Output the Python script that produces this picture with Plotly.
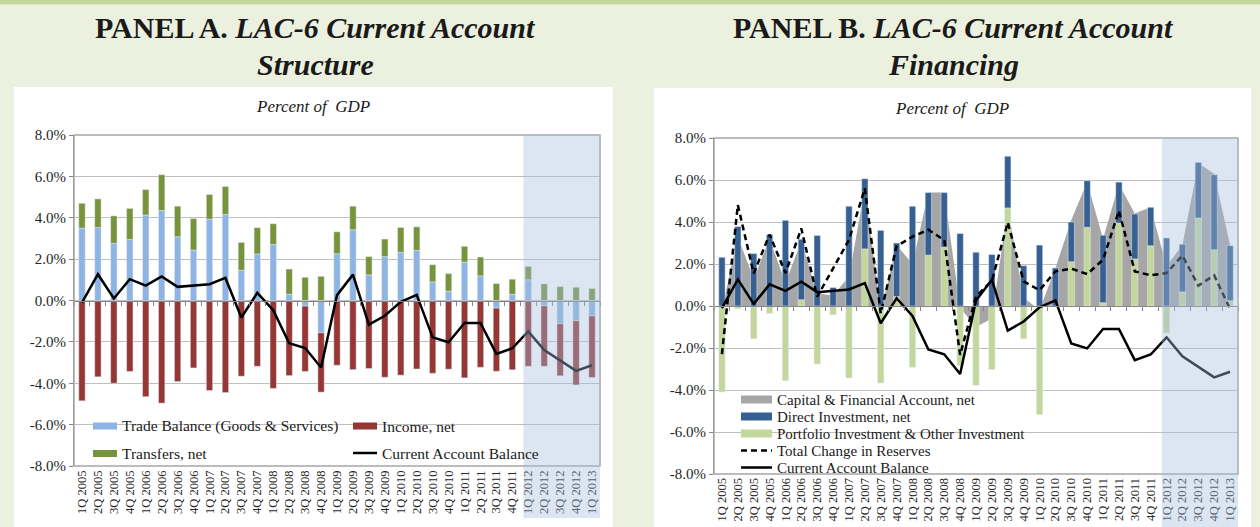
import plotly.graph_objects as go

W, H = 1260, 527

quarters = []
for yr in range(2005, 2014):
    for q in range(1, 5):
        quarters.append(f"{q}Q {yr}")
quarters = quarters[:33]

# Panel A (percent of GDP)
trade = [3.5, 3.53, 2.76, 2.95, 4.13, 4.35, 3.08, 2.44, 3.93, 4.16, 1.46, 2.25, 2.71, 0.3,
         -0.27, -1.56, 2.26, 3.42, 1.24, 2.12, 2.33, 2.42, 0.9, 0.45, 1.86, 1.19, -0.37, 0.3,
         1.0, -0.26, -1.12, -0.98, -0.75]
income = [-4.85, -3.69, -4.0, -3.43, -4.65, -4.96, -3.92, -3.26, -4.35, -4.45, -3.66, -3.18,
          -4.25, -3.63, -3.16, -2.87, -3.13, -3.34, -3.29, -3.71, -3.61, -3.31, -3.52, -3.32,
          -3.74, -3.23, -3.05, -3.35, -3.18, -2.92, -2.52, -3.1, -2.97]
transfers = [1.2, 1.38, 1.33, 1.5, 1.23, 1.73, 1.48, 1.52, 1.19, 1.35, 1.35, 1.27, 1.0, 1.22,
             1.12, 1.17, 1.06, 1.14, 0.88, 0.85, 1.2, 1.14, 0.83, 0.85, 0.76, 0.91, 0.82, 0.73,
             0.65, 0.8, 0.67, 0.64, 0.58]
ca_balance = [-0.1, 1.27, 0.1, 1.03, 0.72, 1.16, 0.66, 0.74, 0.79, 1.09, -0.82, 0.37, -0.47,
              -2.07, -2.3, -3.24, 0.26, 1.25, -1.17, -0.74, -0.06, 0.27, -1.78, -2.02, -1.09,
              -1.09, -2.58, -2.31, -1.49, -2.39, -2.9, -3.4, -3.13]

# Panel B (percent of GDP)
cap_fin = [-0.2, 3.3, 1.3, 3.2, 1.1, 3.1, 0.6, 0.5, 1.4, 5.6, -0.3, 2.9, 2.0, 5.4, 5.4, -0.1,
           -1.0, -0.6, 4.7, 0.4, -0.2, 1.8, 4.1, 5.9, 3.2, 5.8, 4.4, 4.7, 1.9, 2.9, 6.8, 6.3, 2.9]
direct_inv = [2.32, 3.78, 2.5, 3.4, 4.08, 2.88, 3.36, 0.88, 4.75, 3.34, 3.6, 2.55, 4.75, 2.98,
              2.6, 3.45, 2.56, 2.45, 2.46, 1.92, 2.9, 1.81, 1.89, 2.22, 3.21, 1.95, 2.14, 1.83,
              3.24, 2.27, 2.65, 3.57, 2.62]
portfolio = [-4.1, -0.13, -1.56, -0.35, -3.56, 0.3, -2.76, -0.42, -3.43, 2.72, -3.67, 0.45,
             -2.92, 2.42, 2.8, -2.83, -3.78, -3.03, 4.67, -1.56, -5.17, 0.0, 2.11, 3.75, 0.16,
             3.95, 2.24, 2.87, -1.29, 0.67, 4.19, 2.68, 0.25]
reserves = [-2.29, 4.81, 1.55, 3.4, 1.57, 3.69, 0.44, 1.8, 3.15, 5.6, -0.35, 2.85, 3.3, 3.63,
            3.14, -2.33, 0.46, 1.2, 3.98, 1.17, 0.75, 1.65, 1.78, 1.52, 2.2, 4.54, 1.65, 1.46,
            1.57, 2.4, 0.97, 1.46, -0.14]

y_ticks = [-8, -6, -4, -2, 0, 2, 4, 6, 8]
y_ticktext = ["-8.0%", "-6.0%", "-4.0%", "-2.0%", "0.0%", "2.0%", "4.0%", "6.0%", "8.0%"]

C_TRADE = "#8DB4E2"
C_INCOME = "#953735"
C_TRANSF = "#77933C"
C_CAPFIN = "#A6A6A6"
C_DI = "#376092"
C_PORT = "#C3D69B"
FONT = "Liberation Serif"


def px_x(v):
    return v / W


def px_y(v):
    return 1 - v / H


# plot-area domains (pixel based)
A_x = [px_x(74), px_x(600)]
A_y = [px_y(466), px_y(135)]
B_x = [px_x(714), px_x(1238)]
B_y = [px_y(474), px_y(138)]

fig = go.Figure()

# Panel A traces
fig.add_trace(go.Bar(x=quarters, y=trade, marker_color=C_TRADE, name="Trade Balance (Goods & Services)",
                     xaxis="x", yaxis="y", showlegend=False))
fig.add_trace(go.Bar(x=quarters, y=income, marker_color=C_INCOME, name="Income, net",
                     xaxis="x", yaxis="y", showlegend=False))
fig.add_trace(go.Bar(x=quarters, y=transfers, marker_color=C_TRANSF, name="Transfers, net",
                     xaxis="x", yaxis="y", showlegend=False))
fig.add_trace(go.Scatter(x=quarters, y=ca_balance, mode="lines", line=dict(color="black", width=2.5),
                         name="Current Account Balance", xaxis="x", yaxis="y", showlegend=False))

# Panel B: area on base axes, bars + lines on overlay axes
fig.add_trace(go.Scatter(x=quarters, y=cap_fin, mode="lines", fill="tozeroy", fillcolor=C_CAPFIN,
                         line=dict(width=0, color=C_CAPFIN), name="Capital & Financial Account, net",
                         xaxis="x2", yaxis="y2", showlegend=False))
fig.add_trace(go.Bar(x=quarters, y=portfolio, marker_color=C_PORT,
                     name="Portfolio Investment & Other Investment", xaxis="x3", yaxis="y3", showlegend=False))
fig.add_trace(go.Bar(x=quarters, y=direct_inv, marker_color=C_DI, name="Direct Investment, net",
                     xaxis="x3", yaxis="y3", showlegend=False))
fig.add_trace(go.Scatter(x=quarters, y=reserves, mode="lines",
                         line=dict(color="black", width=2.5, dash="6px,4px"),
                         name="Total Change in Reserves", xaxis="x3", yaxis="y3", showlegend=False))
fig.add_trace(go.Scatter(x=quarters, y=ca_balance, mode="lines", line=dict(color="black", width=2.5),
                         name="Current Account Balance", xaxis="x3", yaxis="y3", showlegend=False))

AXC = "#868686"
GRID = "#BFBFBF"


def xaxis_cfg(domain, ydom):
    zero_pos = (ydom[0] + ydom[1]) / 2
    standoff = int(round((ydom[1] - ydom[0]) / 2 * H))
    return dict(domain=domain, anchor="free", position=zero_pos, type="category",
                categoryorder="array", categoryarray=quarters, range=[-0.5, 32.5],
                showline=True, linecolor=AXC, linewidth=1, ticks="outside", tickson="boundaries",
                ticklen=4, tickcolor=AXC, tickangle=-90, showgrid=False, automargin=False,
                tickfont=dict(family=FONT, size=12.5, color="#262626"),
                ticklabelstandoff=standoff - 2, fixedrange=True)


def yaxis_cfg(domain, anchor):
    return dict(domain=domain, anchor=anchor, range=[-8, 8], tickmode="array", tickvals=y_ticks,
                ticktext=y_ticktext, showgrid=True, gridcolor=GRID, gridwidth=1, zeroline=False,
                showline=True, linecolor=AXC, linewidth=1, ticks="outside", ticklen=4,
                automargin=False, tickcolor=AXC,
                tickfont=dict(family=FONT, size=15, color="#262626"), fixedrange=True)


fig.update_layout(
    width=W, height=H, margin=dict(l=0, r=0, t=0, b=0, pad=0, autoexpand=False),
    paper_bgcolor="#EBF1DE", plot_bgcolor="rgba(0,0,0,0)",
    barmode="relative", bargap=0.6,
    xaxis=xaxis_cfg(A_x, A_y),
    yaxis=yaxis_cfg(A_y, "x"),
    xaxis2=xaxis_cfg(B_x, B_y),
    yaxis2=yaxis_cfg(B_y, "x2"),
    xaxis3=dict(overlaying="x2", anchor="y3", visible=False, type="category", categoryorder="array",
                categoryarray=quarters, range=[-0.5, 32.5], domain=B_x, automargin=False),
    yaxis3=dict(overlaying="y2", anchor="x3", visible=False, range=[-8, 8], domain=B_y,
                automargin=False),
    showlegend=False,
)

shapes = []
# top band
shapes.append(dict(type="rect", xref="paper", yref="paper", x0=0, x1=1, y0=px_y(4.5), y1=1,
                   fillcolor="#C4D79B", line_width=0, layer="below"))
# white panels
shapes.append(dict(type="rect", xref="paper", yref="paper", x0=px_x(14), x1=px_x(613), y0=0, y1=px_y(87),
                   fillcolor="white", line_width=0, layer="below"))
shapes.append(dict(type="rect", xref="paper", yref="paper", x0=px_x(654), x1=px_x(1251), y0=0, y1=px_y(88),
                   fillcolor="white", line_width=0, layer="below"))
# plot borders
for xr, yr in (("x domain", "y domain"), ("x2 domain", "y2 domain")):
    shapes.append(dict(type="rect", xref=xr, yref=yr, x0=0, x1=1, y0=0, y1=1,
                       line=dict(color="#A6A6A6", width=1.5), layer="above"))
# forecast shading
shapes.append(dict(type="rect", xref="x", yref="paper", x0=27.7, x1=32.5, y0=px_y(518), y1=A_y[1],
                   fillcolor="rgb(165,190,221)", opacity=0.39, line_width=0, layer="above"))
shapes.append(dict(type="rect", xref="x2", yref="paper", x0=27.7, x1=32.5, y0=0, y1=B_y[1],
                   fillcolor="rgb(165,190,221)", opacity=0.39, line_width=0, layer="above"))

annotations = []


def text(x, y, s, size, xanchor="left", italic=False):
    annotations.append(dict(xref="paper", yref="paper", x=px_x(x), y=px_y(y), text=s, showarrow=False,
                            xanchor=xanchor, yanchor="middle",
                            font=dict(family=FONT, size=size, color="#1a1a1a",
                                      style="italic" if italic else "normal")))


# titles
text(315, 28, "<b>PANEL A. <i>LAC-6 Current Account</i></b>", 30, "center")
text(315, 64, "<b><i>Structure</i></b>", 30, "center")
text(953, 28, "<b>PANEL B. <i>LAC-6 Current Account</i></b>", 30, "center")
text(953, 64, "<b><i>Financing</i></b>", 30, "center")
text(313, 106, "Percent of  GDP", 17, "center", italic=True)
text(952, 108, "Percent of  GDP", 17, "center", italic=True)


def legend_rect(x0, x1, yc, color, h=7):
    shapes.append(dict(type="rect", xref="paper", yref="paper", x0=px_x(x0), x1=px_x(x1),
                       y0=px_y(yc + h / 2), y1=px_y(yc - h / 2), fillcolor=color, line_width=0))


def legend_line(x0, x1, yc, dash="solid"):
    shapes.append(dict(type="line", xref="paper", yref="paper", x0=px_x(x0), x1=px_x(x1),
                       y0=px_y(yc), y1=px_y(yc), line=dict(color="black", width=2.5, dash=dash)))


# Panel A legend
legend_rect(93, 117, 426, C_TRADE)
text(119.5, 426, "Trade Balance (Goods & Services)", 15.5)
legend_rect(353, 377, 426, C_INCOME)
text(379.5, 426, "Income, net", 15.5)
legend_rect(93, 117, 453.5, C_TRANSF)
text(119.5, 453.5, "Transfers, net", 15.5)
legend_line(353, 377, 453)
text(379.5, 453.5, "Current Account Balance", 15.5)

# Panel B legend
rows = [399.5 + 17 * k for k in range(5)]
legend_rect(741, 772, rows[0], C_CAPFIN, 8)
text(775, rows[0], "Capital & Financial Account, net", 15)
legend_rect(741, 772, rows[1], C_DI, 8)
text(775, rows[1], "Direct Investment, net", 15)
legend_rect(741, 772, rows[2], C_PORT, 8)
text(775, rows[2], "Portfolio Investment & Other Investment", 15)
legend_line(741, 772, rows[3], "6px,4px")
text(775, rows[3], "Total Change in Reserves", 15)
legend_line(741, 772, rows[4])
text(775, rows[4], "Current Account Balance", 15)

fig.update_layout(shapes=shapes, annotations=annotations)
fig.write_html(
    "out.html",
    config={"displayModeBar": False, "staticPlot": True},
    post_script=(
        "document.documentElement.style.overflow='hidden';"
        "document.body.style.margin='0';document.body.style.padding='0';"
        "document.body.style.background='#EBF1DE';"
        "var gd=document.getElementById('{plot_id}');"
        "gd.style.position='fixed';gd.style.left='0px';gd.style.top='0px';"
    ),
)
